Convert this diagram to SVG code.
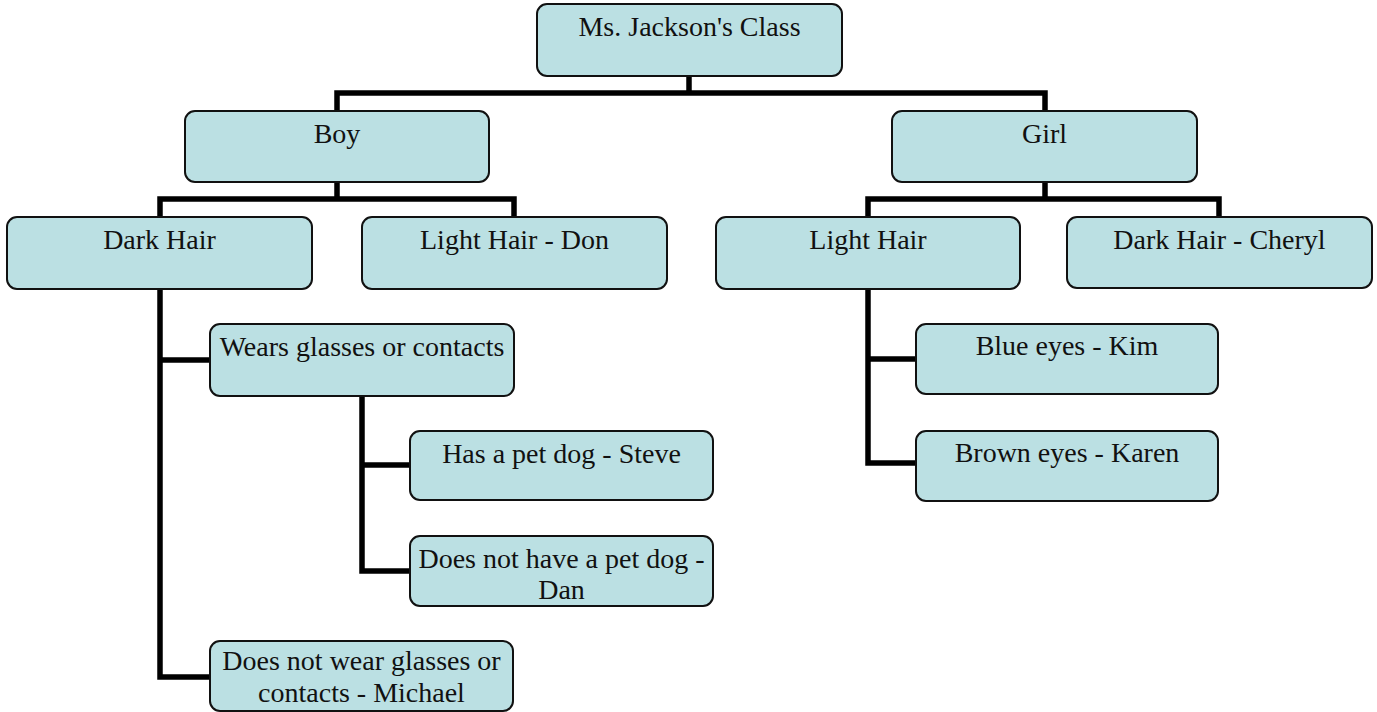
<svg xmlns="http://www.w3.org/2000/svg" width="1377" height="712" viewBox="0 0 1377 712">
<style>
.box{fill:#BBE0E3;stroke:#111;stroke-width:2}
.lbl{font-family:'Liberation Serif','Times New Roman',serif;font-size:28px;fill:#111;text-anchor:middle}
.conn{fill:none;stroke:#000;stroke-width:5.5;stroke-linejoin:miter;stroke-linecap:butt}
</style>
<rect width="1377" height="712" fill="#fff"/>
<g id="connectors" class="conn">
<path d="M689,76 V93 M337,111 V93 H1045 V111"/>
<path d="M337,182 V199 M160,217 V199 H514 V217"/>
<path d="M1045,182 V199 M868,217 V199 H1219 V217"/>
<path d="M160,289 V677 H210 M160,360 H210"/>
<path d="M362,396 V571 H410 M362,465 H410"/>
<path d="M868,289 V463 H916 M868,359 H916"/>
</g>
<g id="root"><rect class="box" x="537" y="4" width="305" height="72" rx="10"/><text class="lbl" x="689.5" y="36">Ms. Jackson's Class</text></g>
<g id="boy"><rect class="box" x="185" y="111" width="304" height="71" rx="10"/><text class="lbl" x="337" y="143">Boy</text></g>
<g id="girl"><rect class="box" x="892" y="111" width="305" height="71" rx="10"/><text class="lbl" x="1044.5" y="143">Girl</text></g>
<g id="boy-dark-hair"><rect class="box" x="7" y="217" width="305" height="72" rx="10"/><text class="lbl" x="159.5" y="249">Dark Hair</text></g>
<g id="boy-light-hair"><rect class="box" x="362" y="217" width="305" height="72" rx="10"/><text class="lbl" x="514.5" y="249">Light Hair - Don</text></g>
<g id="girl-light-hair"><rect class="box" x="716" y="217" width="304" height="72" rx="10"/><text class="lbl" x="868" y="249">Light Hair</text></g>
<g id="girl-dark-hair"><rect class="box" x="1067" y="217" width="305" height="71" rx="10"/><text class="lbl" x="1219.5" y="249">Dark Hair - Cheryl</text></g>
<g id="wears-glasses"><rect class="box" x="210" y="324" width="304" height="72" rx="10"/><text class="lbl" x="362" y="356">Wears glasses or contacts</text></g>
<g id="steve"><rect class="box" x="410" y="431" width="303" height="69" rx="10"/><text class="lbl" x="561.5" y="463">Has a pet dog - Steve</text></g>
<g id="dan"><rect class="box" x="410" y="536" width="303" height="70" rx="10"/><text class="lbl" x="561.5" y="568">Does not have a pet dog -</text><text class="lbl" x="561.5" y="599">Dan</text></g>
<g id="michael"><rect class="box" x="210" y="641" width="303" height="70" rx="10"/><text class="lbl" x="361.5" y="670">Does not wear glasses or</text><text class="lbl" x="361.5" y="702">contacts - Michael</text></g>
<g id="kim"><rect class="box" x="916" y="324" width="302" height="70" rx="10"/><text class="lbl" x="1067" y="355">Blue eyes - Kim</text></g>
<g id="karen"><rect class="box" x="916" y="431" width="302" height="70" rx="10"/><text class="lbl" x="1067" y="462">Brown eyes - Karen</text></g>
</svg>
